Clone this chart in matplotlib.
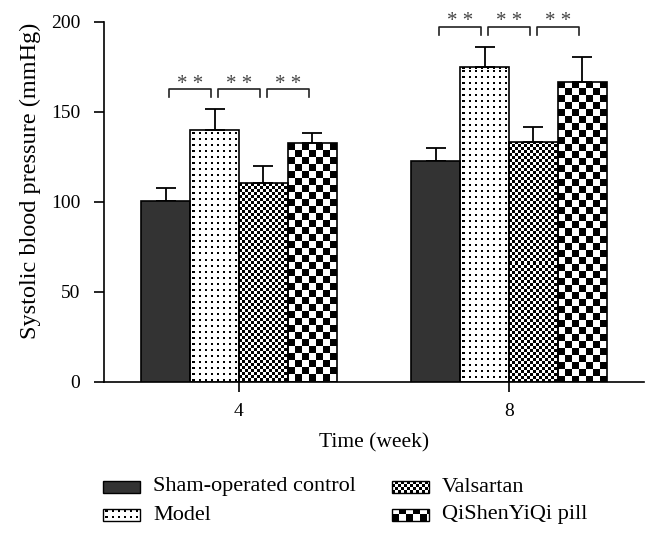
import numpy as np
import matplotlib
matplotlib.use("Agg")
import matplotlib.pyplot as plt
from matplotlib.patches import Rectangle

plt.rcParams["font.family"] = ["Liberation Serif", "DejaVu Serif"]

# =========================
# DATA
# =========================
weeks = ["4", "8"]
groups = ["Sham-operated control", "Model", "Valsartan", "QiShenYiQi pill"]
sham = [100.7, 123.0]
model = [140.2, 174.8]
valsartan = [110.4, 133.5]
qsyq = [132.6, 166.7]
sham_err = [7.3, 6.8]
model_err = [11.5, 11.5]
valsartan_err = [9.6, 8.3]
qsyq_err = [5.9, 13.7]
sig_pairs = [(0, 1), (1, 2), (2, 3)]
sig_label = "* *"

means = [sham, model, valsartan, qsyq]
errs = [sham_err, model_err, valsartan_err, qsyq_err]
textures = ["solid", "dots", "fine", "coarse"]


def texture(kind, w_px, h_px):
    ny, nx = max(int(round(h_px)), 1), max(int(round(w_px)), 1)
    yy, xx = np.mgrid[0:ny, 0:nx]
    if kind == "dots":
        dark = (yy % 6 < 2) & (xx % 6 < 2)
        dark = np.roll(np.roll(dark, 3, axis=0), 3, axis=1)
    elif kind == "fine":
        dark = (yy // 3 + xx // 3) % 2 == 0
    else:
        dark = (yy // 7 + xx // 7) % 2 == 0
    img = np.ones((ny, nx, 3))
    img[dark] = 0.0
    return img


def fill_texture(ax, patch, kind, zorder):
    if kind == "solid":
        return
    x0, y0 = patch.get_x(), patch.get_y()
    x1, y1 = x0 + patch.get_width(), y0 + patch.get_height()
    (px0, py0), (px1, py1) = ax.transData.transform([(x0, y0), (x1, y1)])
    img = texture(kind, abs(px1 - px0), abs(py1 - py0))
    im = ax.imshow(img, extent=(x0, x1, y0, y1), origin="upper", aspect="auto",
                   interpolation="nearest", zorder=zorder)
    im.set_clip_path(patch)


# =========================
# FIGURE
# =========================
fig = plt.figure(figsize=(6.58, 5.40), dpi=100)
ax = fig.add_axes([104 / 658, 1 - 382 / 540, 540 / 658, 360 / 540])
ax.set_xlim(-0.5, 1.5)
ax.set_ylim(0, 200)

x = np.arange(len(weeks))
width = 0.181
for i, (vals, err, kind) in enumerate(zip(means, errs, textures)):
    pos = x + (i - 1.5) * width
    face = "#333333" if kind == "solid" else "none"
    bars = ax.bar(pos, vals, width, facecolor=face, edgecolor="black", linewidth=1.2, zorder=3)
    for b in bars:
        fill_texture(ax, b, kind, 2)
    ax.errorbar(pos, vals, yerr=[np.zeros(len(vals)), err], fmt="none", ecolor="black",
                elinewidth=1.3, capsize=7, capthick=1.3, zorder=2.5)

ax.set_xlim(-0.5, 1.5)
ax.set_ylim(0, 200)

# significance brackets
gap = 0.012
for g in range(len(weeks)):
    tops = [means[k][g] + errs[k][g] for k in range(len(groups))]
    yb = max(tops) + 11
    for a, b in sig_pairs:
        xa = x[g] + (a - 1.5) * width + gap
        xb = x[g] + (b - 1.5) * width - gap
        ax.plot([xa, xa, xb, xb], [yb - 4.6, yb, yb, yb - 4.6], color="#222222",
                lw=1.2, clip_on=False, zorder=4)
        ax.text((xa + xb) / 2, yb + 2.7, sig_label, ha="center", va="center",
                fontsize=15, color="#444444", clip_on=False)

ax.spines["top"].set_visible(False)
ax.spines["right"].set_visible(False)
for s in ["left", "bottom"]:
    ax.spines[s].set_linewidth(1.2)
ax.set_xticks(x)
ax.set_xticklabels(weeks)
ax.set_yticks([0, 50, 100, 150, 200])
ax.tick_params(axis="both", direction="out", length=7, width=1.2, labelsize=14)
ax.tick_params(axis="y", pad=10)
ax.tick_params(axis="x", pad=8)
ax.set_xlabel("Time (week)", fontsize=15.5, labelpad=10)
ax.set_ylabel("Systolic blood pressure (mmHg)", fontsize=17.5)
ax.yaxis.set_label_coords(-0.116, 0.56)

# =========================
# LEGEND (drawn by hand so the textures match)
# =========================
lax = fig.add_axes([0, 0, 1, 1], zorder=-1)
lax.set_xlim(0, 658)
lax.set_ylim(540, 0)
lax.axis("off")
leg_x = [103, 103, 392, 392]
leg_y = [487, 515, 487, 515]
for name, kind, lx, ly in zip(groups, textures, leg_x, leg_y):
    face = "#333333" if kind == "solid" else "none"
    r = Rectangle((lx, ly - 6), 37, 12, facecolor=face, edgecolor="black", lw=1.0, zorder=3)
    lax.add_patch(r)
    fill_texture(lax, r, kind, 2)
    lax.text(lx + 50, ly, name, va="center", ha="left", fontsize=16)
lax.set_xlim(0, 658)
lax.set_ylim(540, 0)

fig.savefig("out.png", dpi=100)
